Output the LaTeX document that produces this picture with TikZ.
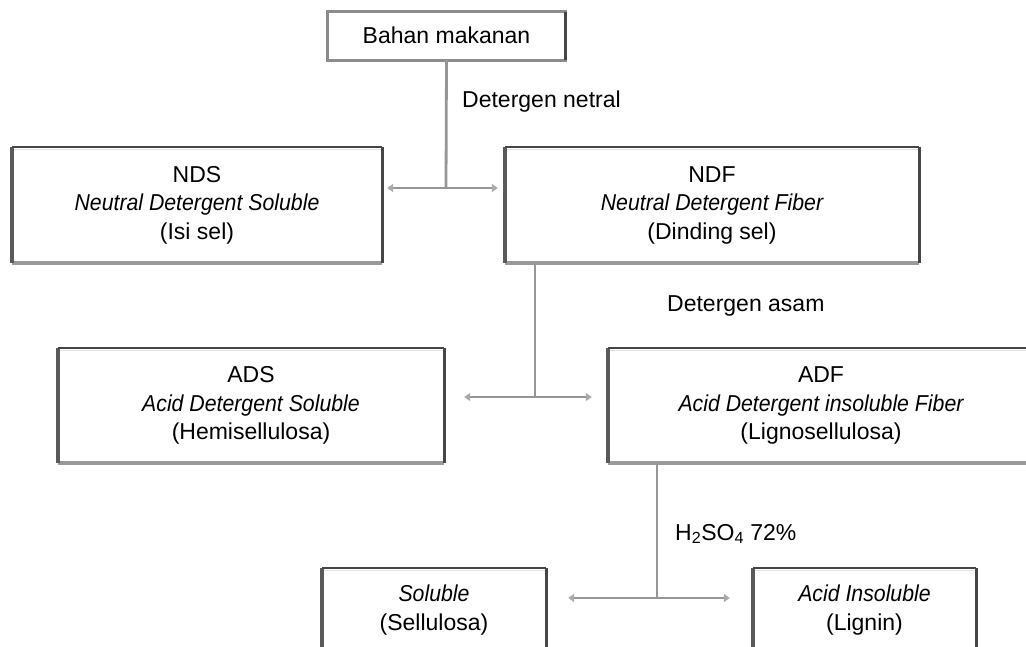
\documentclass[tikz,border=0pt]{standalone}
\usepackage{fontspec}
\setmainfont{Liberation Sans}
\usetikzlibrary{arrows.meta}
\definecolor{edgedark}{RGB}{70,70,70}
\definecolor{edgemid}{RGB}{90,90,90}
\definecolor{edgelow}{RGB}{155,155,155}
\definecolor{edgegray}{RGB}{140,140,140}
\definecolor{halo}{RGB}{228,228,228}
\definecolor{conn}{RGB}{150,150,150}
\definecolor{tipc}{RGB}{170,170,170}
\newcommand{\ital}[1]{\scalebox{0.925}[1]{\itshape #1}}
\begin{document}
\begin{tikzpicture}[x=1pt,y=-1pt,
  box/.style={draw=none, fill=white, rectangle, inner sep=0pt,
    align=center, font=\fontsize{23}{28.5}\selectfont},
  edgeH/.style={draw=halo, line width=1.5pt},
  edgeT/.style={draw=edgedark, line width=2.2pt},
  edgeB/.style={draw=edgelow, line width=3.6pt},
  edgeL/.style={draw=edgemid, line width=3.4pt},
  edgeR/.style={draw=edgedark, line width=3.4pt},
  edgeG/.style={draw=edgegray, line width=3pt},
  vline/.style={draw=conn, line width=2.8pt},
  harr/.style={draw=conn, line width=2pt, -{Triangle[width=8pt,length=6pt,color=tipc]}},
  lbl/.style={font=\fontsize{23}{28.5}\selectfont, inner sep=0pt, anchor=base west}]
\useasboundingbox (0,0) rectangle (1026,646);
\clip (0,0) rectangle (1026,646);

% boxes
\node[box, minimum width=237pt, minimum height=48pt] (top) at (446.5,36) {\raisebox{2pt}{Bahan makanan}};
\node[box, minimum width=370pt, minimum height=116pt] (nds) at (197,205)
  {NDS\\\ital{Neutral Detergent Soluble}\\(Isi sel)};
\node[box, minimum width=414pt, minimum height=116pt] (ndf) at (712,205)
  {NDF\\\ital{Neutral Detergent Fiber}\\(Dinding sel)};
\node[box, minimum width=386pt, minimum height=115pt] (ads) at (251,405.5)
  {ADS\\\ital{Acid Detergent Soluble}\\(Hemisellulosa)};
\node[box, minimum width=426pt, minimum height=115pt] (adf) at (821,405.5)
  {ADF\\\ital{Acid Detergent insoluble Fiber}\\(Lignosellulosa)};
\node[box, minimum width=224pt, minimum height=84.5pt] (sol) at (434,610.25)
  {\ital{Soluble}\\(Sellulosa)};
\node[box, minimum width=223pt, minimum height=84.5pt] (ains) at (864.5,610.25)
  {\ital{Acid Insoluble}\\(Lignin)};

% box borders (scanned 3-D look)
\draw[edgeG] (top.north west) rectangle (top.south east);
\draw[edgeR] (top.north east) -- (top.south east);
\foreach \n in {nds,ndf,ads,adf,sol,ains}{
  \draw[edgeH] ([yshift=-2.5pt]\n.north west) -- ([yshift=-2.5pt]\n.north east);
  \draw[edgeB] (\n.south west) -- (\n.south east);
  \draw[edgeL] (\n.north west) -- (\n.south west);
  \draw[edgeR] (\n.north east) -- (\n.south east);
  \draw[edgeT] (\n.north west) -- (\n.north east);
}

% junctions
\coordinate (j1) at (446,188);
\coordinate (j2) at (535,397);
\coordinate (j3) at (657,598);

% connectors
\draw[vline] (top.south) -- (j1);
\draw[harr, shorten >=5pt] (j1) -- (j1 -| nds.east);
\draw[harr, shorten >=7pt] (j1) -- (j1 -| ndf.west);

\draw[vline] (j2 |- ndf.south) -- (j2);
\draw[harr, shorten >=20pt] (j2) -- (j2 -| ads.east);
\draw[harr, shorten >=16pt] (j2) -- (j2 -| adf.west);

\draw[vline] (j3 |- adf.south) -- (j3);
\draw[harr, shorten >=22pt] (j3) -- (j3 -| sol.east);
\draw[harr, shorten >=23pt] (j3) -- (j3 -| ains.west);

% labels
\node[lbl] (l1) at (462,107) {Detergen netral};
\node[lbl] (l2) at (667,311) {Detergen asam};
\node[lbl] (l3) at (675,540) {H\textsubscript{2}SO\textsubscript{4} 72\%};
\end{tikzpicture}
\end{document}
